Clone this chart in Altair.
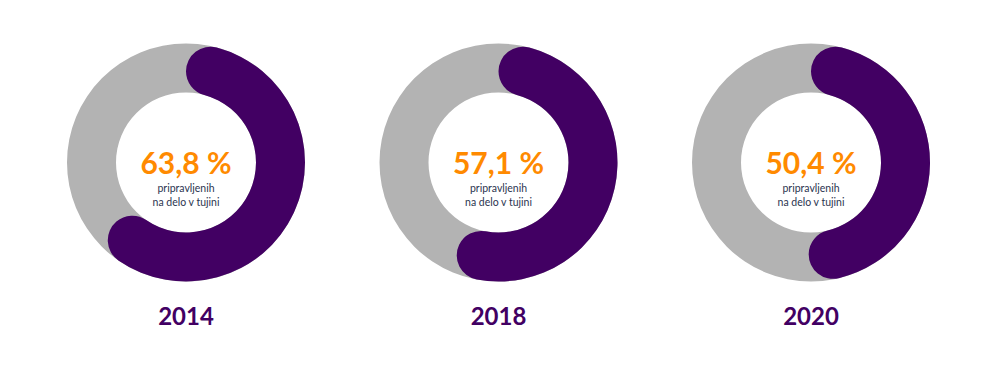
import math
import altair as alt
import pandas as pd

years = ["2014", "2018", "2020"]
shares = [63.8, 57.1, 50.4]
share_labels = ["63,8 %", "57,1 %", "50,4 %"]
line1 = ["pripravljenih", "pripravljenih", "pripravljenih"]
line2 = ["na delo v tujini", "na delo v tujini", "na delo v tujini"]

df = pd.DataFrame({
    "year": years,
    "share": shares,
    "label": share_labels,
    "line1": line1,
    "line2": line2,
    "start": [0] * len(years),
    "full": [100] * len(years),
})

PURPLE = "#420063"
GRAY = "#b3b3b3"
ORANGE = "#ff8a00"
TEXT = "#2c3550"

x_enc = alt.X("year:N", scale=alt.Scale(type="point", domain=years, range=[178, 803], padding=0), axis=None)
theta_scale = alt.Scale(domain=[0, 100], range=[0, 2 * math.pi])
CY = 154.5

base = alt.Chart(df)

ring = base.mark_arc(radius=119, radius2=70, color=GRAY).encode(
    x=x_enc, y=alt.value(CY),
    theta=alt.Theta("start:Q", scale=theta_scale, stack=None),
    theta2="full:Q",
)

arc = base.mark_arc(radius=119, radius2=70, color=PURPLE, cornerRadius=24.5).encode(
    x=x_enc, y=alt.value(CY),
    theta=alt.Theta("start:Q", scale=theta_scale, stack=None),
    theta2="share:Q",
)

pct = base.mark_text(font="Lato", fontWeight="bold", fontSize=30, color=ORANGE,
                     baseline="middle", align="center").encode(
    x=x_enc, y=alt.value(CY + 2), text="label:N")

t1 = base.mark_text(font="Lato", fontSize=10.5, color=TEXT, baseline="middle", align="center").encode(
    x=x_enc, y=alt.value(181), text="line1:N")
t2 = base.mark_text(font="Lato", fontSize=10.5, color=TEXT, baseline="middle", align="center").encode(
    x=x_enc, y=alt.value(195), text="line2:N")

yr = base.mark_text(font="Lato", fontWeight="bold", fontSize=24, color=PURPLE,
                    baseline="middle", align="center").encode(
    x=x_enc, y=alt.value(310), text="year:N")

chart = alt.layer(ring, arc, pct, t1, t2, yr).properties(
    width=980, height=350, padding=0
).configure_view(stroke=None)

chart.save("out.html", embed_options={"renderer": "svg", "actions": False})
